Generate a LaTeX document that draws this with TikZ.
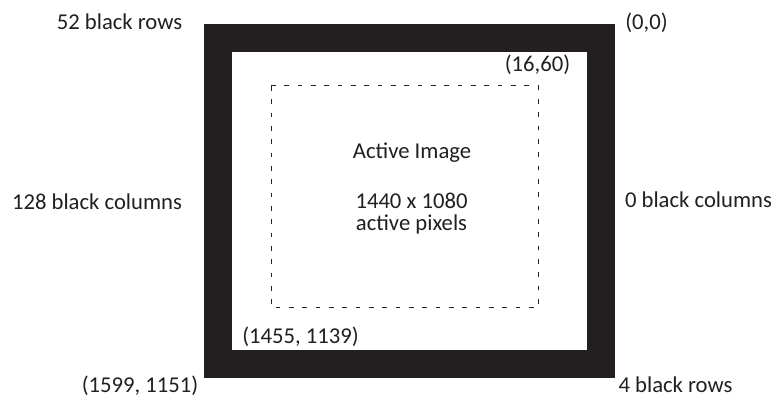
\documentclass[tikz,border=0pt]{standalone}
\usepackage{fontspec}
\setmainfont{Carlito}
\definecolor{frameblack}{HTML}{231F20}
\definecolor{txt}{HTML}{231F20}
\begin{document}
\begin{tikzpicture}[x=0.75pt,y=-0.75pt,
  lbl/.style={font=\fontsize{17}{20}\selectfont, text=txt, inner sep=0pt, anchor=base},
  dashbox/.style={draw=txt, line width=0.75pt, dash pattern=on 3.4pt off 6.6pt}]
\useasboundingbox (0,0) rectangle (774,398);
\fill[frameblack] (204,24) rectangle (615,378);
\fill[white] (232,52) rectangle (587,350);
\draw[dashbox] (271,86) rectangle (538,308);
\node[lbl] (rows52) at (119.5,30) {52 black rows};
\node[lbl] (origin) at (646.5,30) {(0,0)};
\node[lbl] (tl) at (537.5,71.5) {(16,60)};
\node[lbl] (title) at (412,159) {Active Image};
\node[lbl] (dims) at (411.5,209) {1440 x 1080};
\node[lbl] (act) at (411.5,231) {active pixels};
\node[lbl] (cols128) at (97,210) {128 black columns};
\node[lbl] (cols0) at (698.5,207.5) {0 black columns};
\node[lbl] (br) at (300.5,344) {(1455, 1139)};
\node[lbl] (corner) at (140,393) {(1599, 1151)};
\node[lbl] (rows4) at (675.5,393) {4 black rows};
\end{tikzpicture}
\end{document}
